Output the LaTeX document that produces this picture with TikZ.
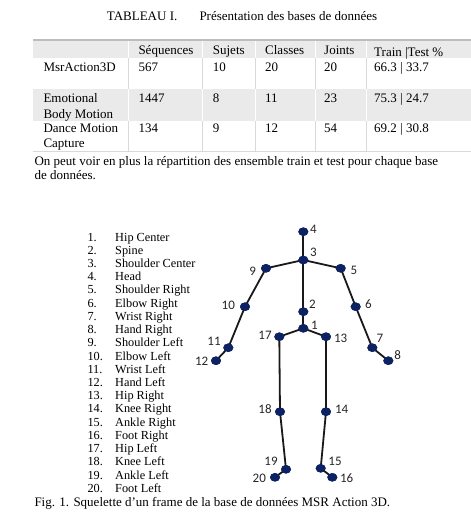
\documentclass[tikz,border=0pt]{standalone}
\usepackage{fontspec}
\setmainfont{Liberation Serif}
\newfontfamily\lblfont{Carlito}
\usetikzlibrary{shapes.geometric}
\definecolor{navy}{HTML}{0C2262}
\definecolor{rowgray}{HTML}{EAEAEA}
\definecolor{rulegray}{HTML}{BDBDBD}
\definecolor{linegray}{HTML}{D9D9D9}
\tikzset{
  txt/.style={anchor=base west, inner sep=0pt, font=\fontsize{13}{14}\selectfont},
  leg/.style={anchor=base west, inner sep=0pt, font=\fontsize{12.3}{13}\selectfont},
  joint/.style={ellipse, fill=navy, draw=none, minimum width=10pt, minimum height=8.5pt, inner sep=0pt},
  jlbl/.style={inner sep=0pt, font=\lblfont\fontsize{13}{14}\selectfont, text=black!85},
  bone/.style={line width=1.8pt, black!90},
}
\begin{document}
\begin{tikzpicture}[x=1pt,y=-1pt]
\useasboundingbox (0,0) rectangle (471,528);
% ---------- title ----------
\node[txt] (t1) at (106.7,20.5) {TABLEAU I.};
\node[txt] (t2) at (199.3,20.5) {Présentation des bases de données};
% ---------- table backgrounds ----------
\fill[rowgray] (33.3,40) rectangle (471,58.3);
\fill[rowgray] (33.3,89) rectangle (471,120.5);
\draw[rulegray, line width=2.2pt] (33.3,40) -- (471,40);
\draw[linegray, line width=0.8pt] (33.3,151.7) -- (471,151.7);
\foreach \x in {128.3,202.7,255,315,366.7}{
  \draw[white, line width=0.8pt] (\x,41) -- (\x,58.3);
  \draw[linegray, line width=0.8pt] (\x,58.3) -- (\x,89);
  \draw[white, line width=0.8pt] (\x,89) -- (\x,120.5);
  \draw[linegray, line width=0.8pt] (\x,120.5) -- (\x,151.7);
}
% header
\node[txt] (h1) at (138.3,54) {Séquences};
\node[txt] (h2) at (212.7,54) {Sujets};
\node[txt] (h3) at (265,54) {Classes};
\node[txt] (h4) at (324,54) {Joints};
\node[txt] (h5) at (374,56) {Train |Test \%};
% row 1
\node[txt] (r1a) at (43.3,71.7) {MsrAction3D};
\node[txt] (r1b) at (138.3,71.7) {567};
\node[txt] (r1c) at (212.7,71.7) {10};
\node[txt] (r1d) at (265,71.7) {20};
\node[txt] (r1e) at (324,71.7) {20};
\node[txt] (r1f) at (374,71.7) {66.3 | 33.7};
% row 2
\node[txt] (r2a) at (43.3,102.7) {Emotional};
\node[txt] (r2a2) at (43.3,118) {Body Motion};
\node[txt] (r2b) at (138.3,102.7) {1447};
\node[txt] (r2c) at (212.7,102.7) {8};
\node[txt] (r2d) at (265,102.7) {11};
\node[txt] (r2e) at (324,102.7) {23};
\node[txt] (r2f) at (374,102.7) {75.3 | 24.7};
% row 3
\node[txt] (r3a) at (43.3,132.7) {Dance Motion};
\node[txt] (r3a2) at (43.3,147.5) {Capture};
\node[txt] (r3b) at (138.3,132.7) {134};
\node[txt] (r3c) at (212.7,132.7) {9};
\node[txt] (r3d) at (265,132.7) {12};
\node[txt] (r3e) at (324,132.7) {54};
\node[txt] (r3f) at (374,132.7) {69.2 | 30.8};
% paragraph
\node[txt] (p1) at (34.3,165.7) {On peut voir en plus la répartition des ensemble train et test pour chaque base};
\node[txt] (p2) at (34.3,179.5) {de données.};
% ---------- legend ----------
\foreach \n/\name [count=\i from 0] in {1/Hip Center,2/Spine,3/Shoulder Center,4/Head,5/Shoulder Right,6/Elbow Right,7/Wrist Right,8/Hand Right,9/Shoulder Left,10/Elbow Left,11/Wrist Left,12/Hand Left,13/Hip Right,14/Knee Right,15/Ankle Right,16/Foot Right,17/Hip Left,18/Knee Left,19/Ankle Left,20/Foot Left}{
  \node[leg] (ln\n) at (87.3,241+13.23*\i) {\n.};
  \node[leg] (lt\n) at (115,241+13.23*\i) {\name};
}
% ---------- skeleton ----------
\node[joint] (j4) at (303.3,231.7) {};
\node[joint] (j3) at (303.3,260) {};
\node[joint] (j9) at (266,268.3) {};
\node[joint] (j5) at (340.7,268.3) {};
\node[joint] (j10) at (245,306.7) {};
\node[joint] (j6) at (355.7,306.7) {};
\node[joint] (j2) at (303.3,311.7) {};
\node[joint] (j1) at (303.3,328.3) {};
\node[joint] (j17) at (279.3,336.7) {};
\node[joint] (j13) at (326,336.7) {};
\node[joint] (j11) at (228.3,347.7) {};
\node[joint] (j7) at (372.3,347.7) {};
\node[joint] (j12) at (216,360.7) {};
\node[joint] (j8) at (388.3,360.7) {};
\node[joint] (j18) at (280,411.7) {};
\node[joint] (j14) at (326,411.7) {};
\node[joint] (j19) at (286,469.3) {};
\node[joint] (j15) at (320.7,468.3) {};
\node[joint] (j20) at (275,477.3) {};
\node[joint] (j16) at (332.3,477.3) {};
\begin{scope}[on background layer/.style={}]
\foreach \a/\b in {4/3,3/9,3/5,3/2,2/1,9/10,10/11,11/12,5/6,6/7,7/8,1/17,1/13,17/18,18/19,19/20,13/14,14/15,15/16}{
  \draw[bone] (j\a.center) -- (j\b.center);
}
\end{scope}
% redraw joints on top
\foreach \j in {1,...,20}{
  \path (j\j.center) node[joint] {};
}
% labels
\node[jlbl] (l4) at (313.3,229) {4};
\node[jlbl] (l3) at (313.3,252.7) {3};
\node[jlbl] (l9) at (252.7,271.7) {9};
\node[jlbl] (l5) at (354,270) {5};
\node[jlbl] (l10) at (228.3,305.7) {10};
\node[jlbl] (l6) at (368.3,304.3) {6};
\node[jlbl] (l2) at (312.3,304.3) {2};
\node[jlbl] (l1) at (314.3,325) {1};
\node[jlbl] (l17) at (265,335.7) {17};
\node[jlbl] (l13) at (340.7,338.3) {13};
\node[jlbl] (l11) at (214,341.7) {11};
\node[jlbl] (l7) at (380,338.3) {7};
\node[jlbl] (l12) at (201.7,361) {12};
\node[jlbl] (l8) at (397.7,355) {8};
\node[jlbl] (l18) at (265,409.3) {18};
\node[jlbl] (l14) at (341.7,409.3) {14};
\node[jlbl] (l19) at (271,461.7) {19};
\node[jlbl] (l15) at (335,461.7) {15};
\node[jlbl] (l20) at (259.3,478.3) {20};
\node[jlbl] (l16) at (346.7,478.3) {16};
% caption
\node[txt] (cap) at (34.3,506.7) {Fig. 1. Squelette d’un frame de la base de données MSR Action 3D.};
\end{tikzpicture}
\end{document}
